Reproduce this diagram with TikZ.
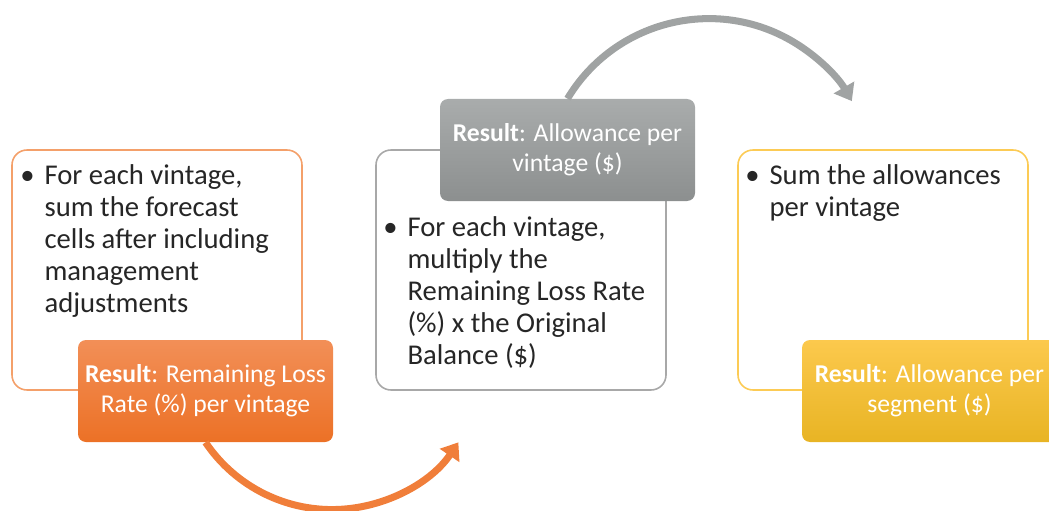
\documentclass[tikz,border=0pt]{standalone}
\usepackage{fontspec}
\setmainfont{Carlito}
\usetikzlibrary{arrows.meta,positioning,calc}

\definecolor{orangeline}{HTML}{F4A06A}
\definecolor{orangetop}{HTML}{F28F57}
\definecolor{orangebot}{HTML}{EC7126}
\definecolor{grayline}{HTML}{A8A8A8}
\definecolor{graytop}{HTML}{A9ACAC}
\definecolor{graybot}{HTML}{8C8F8F}
\definecolor{yellowline}{HTML}{FCCB55}
\definecolor{yellowtop}{HTML}{FCC94D}
\definecolor{yellowbot}{HTML}{E8B424}
\definecolor{arcorange}{HTML}{F07E3A}
\definecolor{arcgray}{HTML}{A0A3A3}

\begin{document}
\begin{tikzpicture}[
  stepbox/.style={draw, line width=0.9pt, rounded corners=0.3cm, fill=white, minimum width=5.8cm, minimum height=4.8cm},
  result/.style={rounded corners=0.16cm, minimum width=5.1cm, minimum height=2.04cm, text=white, align=center, font=\fontsize{14.6}{17}\selectfont},
  bullettext/.style={anchor=north west, inner sep=0pt, align=left, text=black!85, font=\fontsize{16.3}{18.2}\selectfont},
  arc/.style={line width=4pt}
]
\useasboundingbox (0,0) rectangle (20.98,-10.22);

% step 1
\node[stepbox, draw=orangeline] (box1) at (3.14,-5.4) {};
\node[bullettext] (txt1) at ($(box1.north west)+(0.66,-0.31)$)
  {\llap{\textbullet\hspace{0.2cm}}For each vintage,\\sum the forecast\\cells after including\\management\\adjustments};
\node[result, top color=orangetop, bottom color=orangebot] (res1) at (4.11,-7.82)
  {\textbf{Result}: Remaining Loss\\Rate (\%) per vintage};

% step 2
\node[stepbox, draw=grayline] (box2) at (10.42,-5.4) {};
\node[bullettext] (txt2) at ($(box2.north west)+(0.64,-1.35)$)
  {\llap{\textbullet\hspace{0.2cm}}For each vintage,\\multiply the\\Remaining Loss Rate\\(\%) x the Original\\Balance (\$)};
\node[result, top color=graytop, bottom color=graybot] (res2) at (11.35,-3.0)
  {\textbf{Result}: Allowance per\\vintage (\$)};

% step 3
\node[stepbox, draw=yellowline] (box3) at (17.66,-5.4) {};
\node[bullettext] (txt3) at ($(box3.north west)+(0.64,-0.31)$)
  {\llap{\textbullet\hspace{0.2cm}}Sum the allowances\\per vintage};
\node[result, top color=yellowtop, bottom color=yellowbot] (res3) at (18.59,-7.82)
  {\textbf{Result}: Allowance per\\segment (\$)};

% arrows
\draw[arc, arcorange, -{Triangle[length=9pt,width=13pt]}] (res1.south)
  arc[start angle=214, end angle=326, radius=3.05cm];
\draw[arc, arcgray, -{Triangle[length=9pt,width=13pt]}] (res2.north)
  arc[start angle=149, end angle=30, radius=3.3cm];

\end{tikzpicture}
\end{document}
